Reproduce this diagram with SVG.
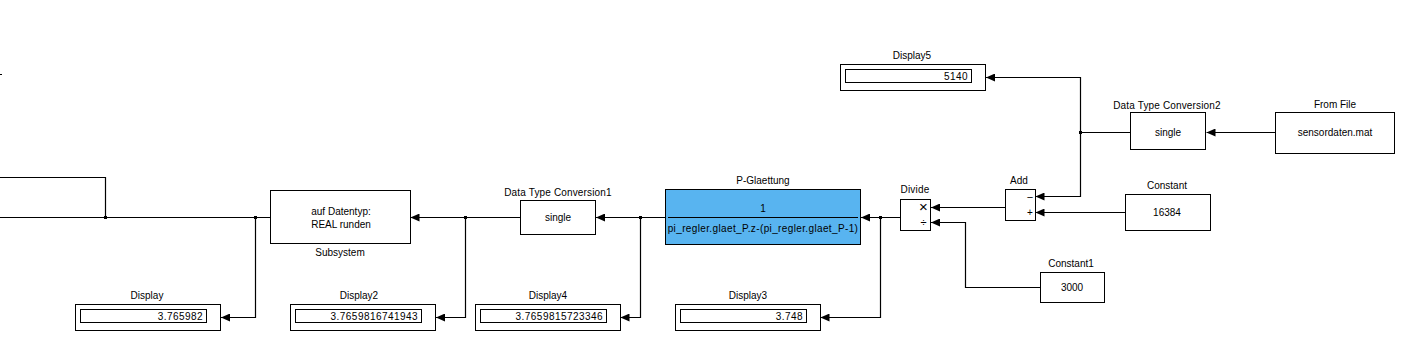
<svg xmlns="http://www.w3.org/2000/svg" width="1415" height="349" viewBox="0 0 1415 349">
<defs>
<marker id="arr" viewBox="0 0 9 8" refX="9" refY="4" markerWidth="9" markerHeight="8" markerUnits="userSpaceOnUse" orient="auto">
<path d="M0,0 L9,4 L0,8 z" fill="#000"/>
</marker>
</defs>
<style>
text{font-family:"Liberation Sans",Arial,sans-serif;font-size:10px;fill:#000}
.blk{fill:#fff;stroke:#000;stroke-width:1}
.in{fill:#fff;stroke:#000;stroke-width:1}
.c{text-anchor:middle}
.r{text-anchor:end;letter-spacing:0.45px}
.w{fill:none;stroke:#000;stroke-width:1.2}
.a{marker-end:url(#arr)}
.j{fill:#000}
</style>
<rect width="1415" height="349" fill="#fff"/>
<g id="connectors">
<path class="w" d="M0,74.5 H2"/>
<path class="w" d="M270,217.5 H0"/>
<path class="w" d="M105.5,217.5 V177.5 H0"/>
<path class="w a" d="M255.5,217.5 V317.5 H221"/>
<path class="w a" d="M520,217.5 H410.5"/>
<path class="w a" d="M465.5,217.5 V317.5 H436"/>
<path class="w a" d="M666,217.5 H596"/>
<path class="w a" d="M640.5,217.5 V317.5 H620.5"/>
<path class="w a" d="M900,217.5 H861"/>
<path class="w a" d="M880.5,217.5 V317.5 H820.5"/>
<path class="w a" d="M1005,207.5 H931"/>
<path class="w a" d="M1125,212.5 H1035.5"/>
<path class="w a" d="M1040,287.5 H965.5 V222.5 H931"/>
<path class="w" d="M1131,132.5 H1080.5"/>
<path class="w a" d="M1080.5,132.5 V77.5 H986"/>
<path class="w a" d="M1080.5,132.5 V196.5 H1035.5"/>
<path class="w a" d="M1276,132.5 H1206.5"/>
<rect class="j" x="104" y="216" width="3" height="3"/>
<rect class="j" x="254" y="216" width="3" height="3"/>
<rect class="j" x="464" y="216" width="3" height="3"/>
<rect class="j" x="639" y="216" width="3" height="3"/>
<rect class="j" x="879" y="216" width="3" height="3"/>
<rect class="j" x="1079" y="131" width="3" height="3"/>
</g>
<g id="subsystem">
<rect class="blk" x="270.5" y="190.5" width="140" height="53"/>
<text class="c" x="341" y="215">auf Datentyp:</text>
<text class="c" x="341" y="228">REAL runden</text>
<text class="c" x="340" y="256">Subsystem</text>
</g>
<g id="dtc1">
<rect class="blk" x="520.5" y="200.5" width="75" height="34"/>
<text class="c" x="558" y="221">single</text>
<text class="c" x="558" y="196" style="letter-spacing:0.15px">Data Type Conversion1</text>
</g>
<g id="pglaettung">
<rect x="665.5" y="189.5" width="195" height="55" fill="#58b4f0" stroke="#000"/>
<line x1="668" y1="217.5" x2="858" y2="217.5" stroke="#000" stroke-width="1"/>
<text class="c" x="763" y="212">1</text>
<text class="c" x="763" y="232" style="letter-spacing:0.37px">pi_regler.glaet_P.z-(pi_regler.glaet_P-1)</text>
<text class="c" x="763" y="184">P-Glaettung</text>
</g>
<g id="divide">
<rect class="blk" x="900.5" y="199.5" width="30" height="31"/>
<text class="c" x="915" y="193" style="letter-spacing:0.2px">Divide</text>
<text class="c" x="923.5" y="212" style="font-size:15px">×</text>
<text class="c" x="923.5" y="226" style="font-size:11px">÷</text>
</g>
<g id="add">
<rect class="blk" x="1005.5" y="189.5" width="30" height="31"/>
<text class="c" x="1019" y="184">Add</text>
<text class="c" x="1030" y="201" style="font-size:11px">−</text>
<text class="c" x="1030" y="216">+</text>
</g>
<g id="constant">
<rect class="blk" x="1125.5" y="194.5" width="85" height="36"/>
<text class="c" x="1167" y="216">16384</text>
<text class="c" x="1167" y="189">Constant</text>
</g>
<g id="constant1">
<rect class="blk" x="1040.5" y="272.5" width="64" height="30"/>
<text class="c" x="1072" y="291">3000</text>
<text class="c" x="1071" y="267">Constant1</text>
</g>
<g id="dtc2">
<rect class="blk" x="1130.5" y="112.5" width="75" height="37"/>
<text class="c" x="1168" y="136">single</text>
<text class="c" x="1167" y="109" style="letter-spacing:0.15px">Data Type Conversion2</text>
</g>
<g id="fromfile">
<rect class="blk" x="1275.5" y="112.5" width="119" height="41"/>
<text class="c" x="1335" y="136">sensordaten.mat</text>
<text class="c" x="1335" y="108">From File</text>
</g>
<g id="display5">
<rect class="blk" x="840.5" y="64.5" width="145" height="26"/>
<rect class="in" x="845.5" y="69.5" width="126" height="13"/>
<text class="r" x="968" y="79.5">5140</text>
<text class="c" x="912" y="59">Display5</text>
</g>
<g id="display">
<rect class="blk" x="75.5" y="304.5" width="145" height="26"/>
<rect class="in" x="80.5" y="309.5" width="126" height="13"/>
<text class="r" x="203" y="319.5">3.765982</text>
<text class="c" x="147" y="299">Display</text>
</g>
<g id="display2">
<rect class="blk" x="290.5" y="304.5" width="145" height="26"/>
<rect class="in" x="295.5" y="309.5" width="126" height="13"/>
<text class="r" x="418" y="319.5">3.7659816741943</text>
<text class="c" x="359" y="299">Display2</text>
</g>
<g id="display4">
<rect class="blk" x="475.5" y="304.5" width="145" height="26"/>
<rect class="in" x="480.5" y="309.5" width="126" height="13"/>
<text class="r" x="603" y="319.5">3.7659815723346</text>
<text class="c" x="548" y="299">Display4</text>
</g>
<g id="display3">
<rect class="blk" x="675.5" y="304.5" width="145" height="26"/>
<rect class="in" x="680.5" y="309.5" width="126" height="13"/>
<text class="r" x="803" y="319.5">3.748</text>
<text class="c" x="748" y="299">Display3</text>
</g>
</svg>
